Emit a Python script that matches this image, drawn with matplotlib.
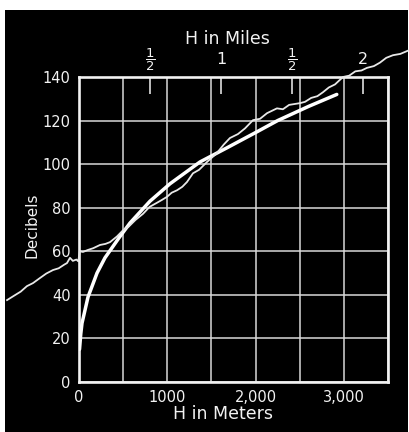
import matplotlib
matplotlib.use("Agg")
import matplotlib.pyplot as plt
from matplotlib.patches import Rectangle
from matplotlib.transforms import blended_transform_factory

# Smooth theoretical curve: sound level (dB) versus height H (m)
curve_h = [6, 20, 34, 102, 204, 294, 450, 578, 804, 1031, 1370, 1676, 2000, 2250, 2600, 2920]
curve_db = [15, 22, 27, 39, 50, 57, 66, 73, 83, 91, 101, 107.5, 114.5, 120, 126.5, 132]

# Measured (recorded) trace, drawn past the frame on both sides
trace_h = [-815, -740, -660, -590, -521, -450, -370, -294, -230, -170, -136, -102, -70,
           -30, -8, 8, 45, 100, 160, 238, 300, 351, 430, 498, 560, 640, 725, 800, 880,
           940, 997, 1050, 1110, 1170, 1223, 1291, 1360, 1450, 1560, 1640, 1710, 1800,
           1880, 1971, 2050, 2130, 2242, 2310, 2380, 2503, 2560, 2630, 2700, 2763, 2830,
           2900, 2990, 3060, 3130, 3200, 3262, 3340, 3409, 3480, 3556, 3640, 3750]
trace_db = [37.6, 39.5, 41.5, 44.0, 45.4, 47.5, 49.8, 51.4, 52.2, 53.8, 54.6, 57.0, 55.6,
            56.2, 55.4, 60.0, 59.7, 60.6, 61.4, 62.9, 63.4, 64.2, 66.8, 69.6, 71.2, 74.4,
            77.2, 80.4, 82.2, 83.6, 85.0, 86.9, 88.0, 89.6, 91.8, 95.8, 97.4, 101.0, 105.0,
            109.0, 112.0, 113.8, 116.4, 120.2, 120.8, 123.4, 125.6, 125.2, 127.2, 128.0,
            128.6, 130.4, 131.2, 133.0, 135.2, 136.6, 140.0, 140.6, 142.6, 143.0, 144.2,
            145.0, 146.6, 148.8, 150.0, 150.6, 152.5]

y_ticks = [0, 20, 40, 60, 80, 100, 120, 140]
x_ticks = [0, 1000, 2000, 3000]
x_tick_labels = ["0", "1000", "2,000", "3,000"]
x_grid = [500, 1500, 2500, 3500]
mile_ticks = [0.5, 1.0, 1.5, 2.0]
mile_labels = [r"$\dfrac{1}{2}$", "1", r"$\dfrac{1}{2}$", "2"]

M_PER_MILE = 1609.34

W, H = 410, 432
fig = plt.figure(figsize=(W / 100, H / 100), dpi=100, facecolor="white")
fig.patches.append(Rectangle((5 / W, 0), 403 / W, 422 / H, transform=fig.transFigure,
                             facecolor="black", edgecolor="none", zorder=-5))

ax = fig.add_axes([79 / W, 1 - 382 / H, (388 - 79) / W, (382 - 77) / H])
ax.set_facecolor("black")
ax.set_xlim(0, 3500)
ax.set_ylim(0, 140)

fg = "#f2f2f2"
for s in ax.spines.values():
    s.set_color(fg)
    s.set_linewidth(1.9)

ax.set_yticks(y_ticks)
ax.set_xticks(x_ticks)
ax.set_xticklabels(x_tick_labels)
ax.set_xticks(x_grid, minor=True)
ax.tick_params(axis="both", which="both", length=0, colors=fg, labelsize=10.5)
ax.tick_params(axis="x", pad=6)
ax.tick_params(axis="y", pad=6)
ax.grid(True, which="both", color="#d9d9d9", linewidth=1.1)
ax.set_axisbelow(True)

# Upper scale in miles: inward tick marks, labels placed above the frame
sec = ax.secondary_xaxis("top", functions=(lambda m: m / M_PER_MILE,
                                           lambda mi: mi * M_PER_MILE))
sec.set_xticks(mile_ticks)
sec.set_xticklabels([""] * len(mile_ticks))
sec.tick_params(direction="in", length=12, width=1.1, color=fg)
sec.spines["top"].set_visible(False)

top_tr = blended_transform_factory(ax.transData, fig.transFigure)
for mi, lab in zip(mile_ticks, mile_labels):
    size = 9.5 if lab.startswith("$") else 11.5
    ax.text(mi * M_PER_MILE, 1 - 60 / H, lab, transform=top_tr, color=fg,
            fontsize=size, ha="center", va="center", clip_on=False)

ax.plot(curve_h, curve_db, color="white", linewidth=2.5, solid_capstyle="round", zorder=4)
ax.plot(trace_h, trace_db, color="#e8e8e8", linewidth=1.3, clip_on=False, zorder=5)

fig.text(227 / W, 1 - 39 / H, "H in Miles", color=fg, fontsize=12.5,
         ha="center", va="center")
fig.text(223 / W, 1 - 414 / H, "H in Meters", color=fg, fontsize=12.5,
         ha="center", va="center")
fig.text(32 / W, 1 - 225 / H, "Decibels", color=fg, fontsize=11,
         ha="center", va="center", rotation=90)

fig.savefig("out.png", dpi=100, facecolor=fig.get_facecolor())
